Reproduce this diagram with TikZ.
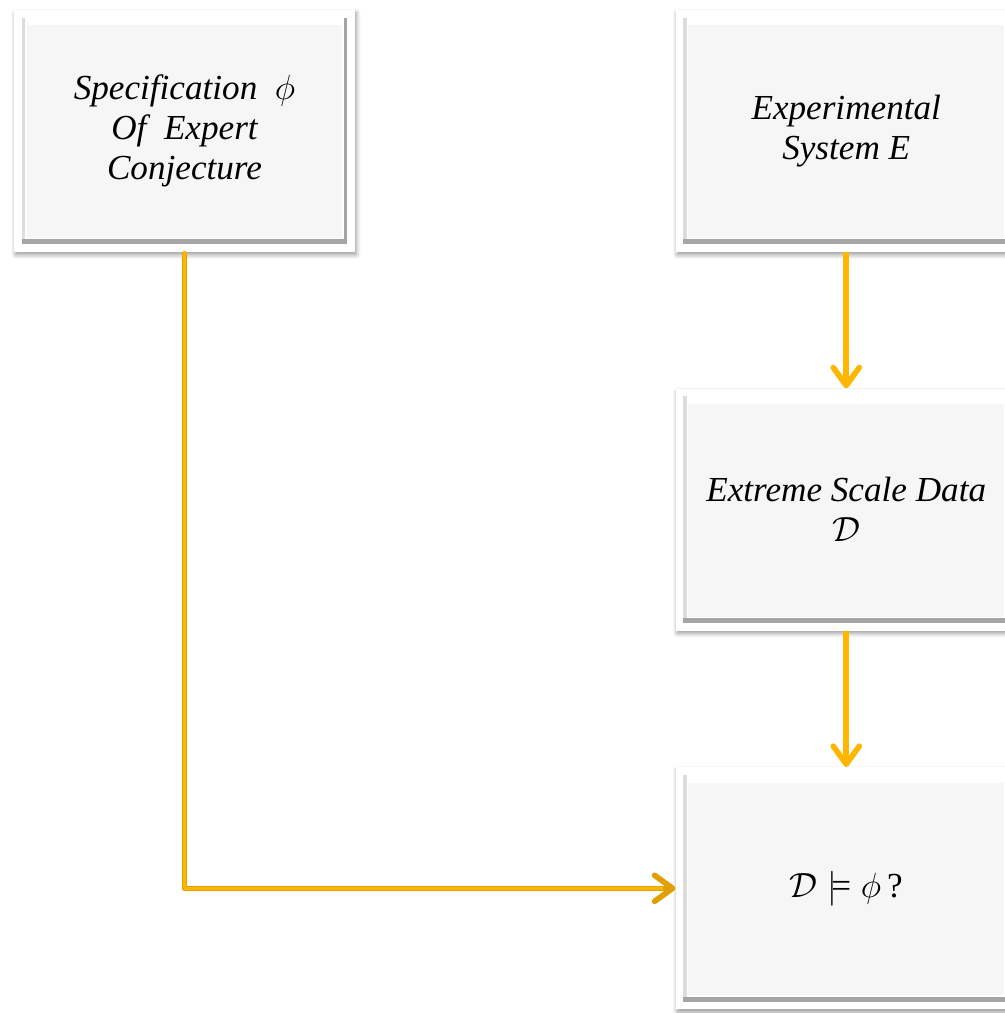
\documentclass[tikz,border=0pt]{standalone}
\usepackage{amsmath,amssymb}
\usepackage{fontspec}
\setmainfont{Liberation Serif}
\usepackage{tikz}
\usetikzlibrary{positioning,shadows.blur,arrows.meta}
\definecolor{ArrowGold}{RGB}{255,182,0}
\definecolor{ArrowEdge}{RGB}{226,160,0}
\definecolor{BoxGray}{RGB}{246,246,246}
\definecolor{BevelDark}{RGB}{165,165,165}
\definecolor{BevelLight}{RGB}{220,220,220}

\begin{document}
\begin{tikzpicture}[x=0.025cm, y=0.025cm,
    box/.style={rectangle, inner sep=0pt, minimum width=8.525cm, minimum height=6.05cm,
        fill=white, align=center, font=\itshape\fontsize{25}{28.5}\selectfont,
        blur shadow={shadow xshift=1pt, shadow yshift=-2pt, shadow blur steps=6,
            shadow blur radius=3pt, shadow opacity=40},
        path picture={
            \fill[BevelDark] ([xshift=5.5pt,yshift=5.5pt]path picture bounding box.south west)
                rectangle ([xshift=-5.5pt,yshift=-5.5pt]path picture bounding box.north east);
            \fill[BevelLight] ([xshift=5.5pt,yshift=9pt]path picture bounding box.south west)
                rectangle ([xshift=-8pt,yshift=-5.5pt]path picture bounding box.north east);
            \fill[white] ([xshift=8pt,yshift=9pt]path picture bounding box.south west)
                rectangle ([xshift=-8pt,yshift=-5.5pt]path picture bounding box.north east);
            \fill[BoxGray] ([xshift=9pt,yshift=10pt]path picture bounding box.south west)
                rectangle ([xshift=-9pt,yshift=-11pt]path picture bounding box.north east);
        }},
    flow/.style={ArrowGold, line width=4pt,
        -{Straight Barb[length=4.5mm, width=6.5mm, line join=round, line cap=round]}}]
    \useasboundingbox (0,0) rectangle (1005,-1013);
    % Boxes
    \node[box] (spec) at (184.5,-131) {Specification~~$\phi$\\Of~~Expert\\Conjecture};
    \node[box, right=8cm of spec] (system) {Experimental\\System E};
    \node[box, below=3.4cm of system] (data) {Extreme Scale Data\\$\mathcal{D}$};
    \node[box, below=3.4cm of data] (check) {$\mathcal{D}\models\phi$\,\textup{?}};
    % Arrows
    \draw[flow] (system) -- (data);
    \draw[flow] (data) -- (check);
    \draw[flow, draw=ArrowEdge, line join=round] (spec.south) |- (check.west);
    \draw[ArrowGold, line width=2.5pt, line join=round] ([yshift=1pt]spec.south) |- ([xshift=-9pt]check.west);
\end{tikzpicture}
\end{document}
